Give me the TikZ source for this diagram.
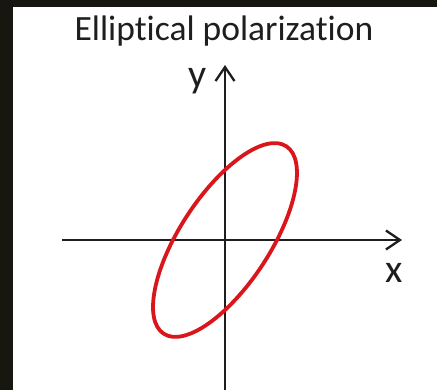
\documentclass[tikz,border=0pt]{standalone}
\usepackage{fontspec}
\setmainfont{Carlito}[Ligatures=NoCommon]
\usetikzlibrary{arrows.meta}
\definecolor{FrameDark}{HTML}{18170F}
\definecolor{PolRed}{HTML}{D9161C}
\definecolor{AxisInk}{HTML}{1E1E1E}
\begin{document}
\begin{tikzpicture}[x=1pt,y=1pt,
      axis/.style={draw=AxisInk,line width=2.3pt,
      -{Straight Barb[length=14pt,width=19pt,line width=2.3pt]}},
      pol/.style={draw=PolRed,line width=3.8pt},
      lbl/.style={anchor=base,text=AxisInk,inner sep=0pt,font=\fontsize{40}{46}\selectfont},
      title/.style={anchor=base,text=AxisInk,inner sep=0pt,font=\fontsize{35.5}{42}\selectfont}]
      \useasboundingbox (-225,-150) rectangle (212,240);
      \fill[white] (-212,-150) rectangle (212,233);
      \fill[FrameDark] (-225,-150) rectangle (-212,240);
      \fill[FrameDark] (-212,233) rectangle (212,240);
      \coordinate (O) at (0,0);
      \coordinate (xmin) at (-163,0);
      \coordinate (xmax) at (177,0);
      \coordinate (ymin) at (0,-150);
      \coordinate (ymax) at (0,175);
      \node[title] (title) at (-1,199) {Elliptical polarization};
      \draw[axis] (xmin) -- (xmax);
      \draw[axis] (ymin) -- (ymax);
      \node[lbl] (ylab) at (-27,152) {y};
      \node[lbl] (xlab) at (169,-43) {x};
      \draw[pol,rotate=56.8] (O) ellipse [x radius=112,y radius=45];
    \end{tikzpicture}
\end{document}
